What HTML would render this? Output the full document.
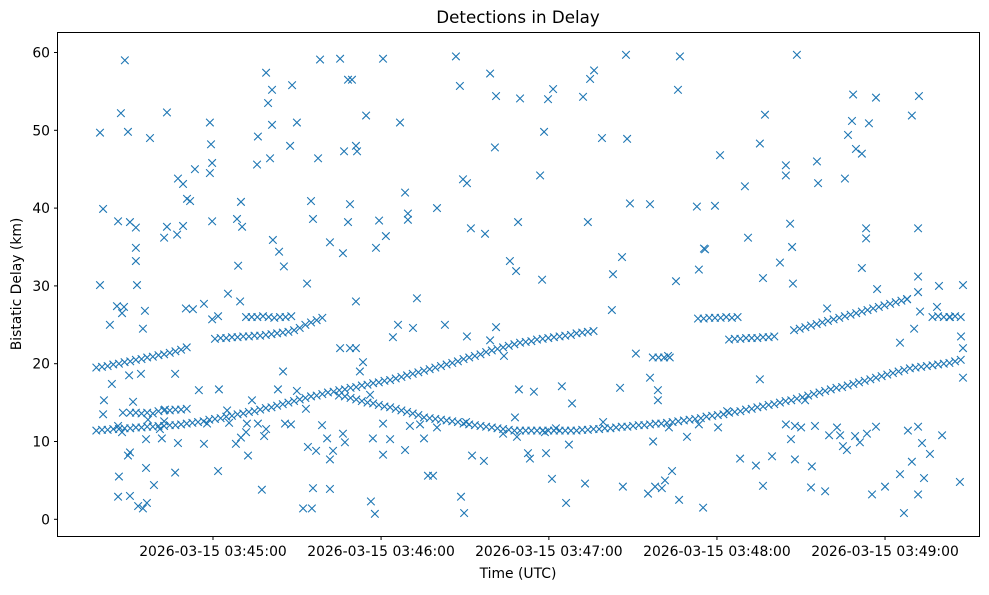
<!DOCTYPE html>
<html><head><meta charset="utf-8">
<style>
html,body{margin:0;padding:0;background:#fff;}
svg text{font-family:"DejaVu Sans","Liberation Sans",sans-serif;fill:#000;}
</style></head>
<body>
<svg id="chart" width="989" height="590" viewBox="0 0 989 590" xmlns="http://www.w3.org/2000/svg">
<rect width="989" height="590" fill="#fff"/>
<text x="518" y="23" font-size="16.7" text-anchor="middle">Detections in Delay</text>
<text x="518" y="578" font-size="13.9" text-anchor="middle">Time (UTC)</text>
<text transform="translate(21,284) rotate(-90)" font-size="13.9" text-anchor="middle">Bistatic Delay (km)</text>
<g id="marks"></g>
<rect x="57.5" y="32.5" width="922" height="504" fill="none" stroke="#000" stroke-width="1"/>
<g id="axes"></g>
</svg>
<script>
// tick data
const xTickTimes = [65.3, 124.8, 184.2, 243.7, 303.2];
const xTickLabels = ["2026-03-15 03:45:00","2026-03-15 03:46:00","2026-03-15 03:47:00","2026-03-15 03:48:00","2026-03-15 03:49:00"];
const yTicks = [0,10,20,30,40,50,60];

// dense track series: start time (s after 03:44:00), step (s), delays (km)
const trackAStart = 24, trackAStep = 2;
const trackA = [11.4,11.5,11.5,11.6,11.6,11.7,11.7,11.8,11.8,11.9,11.9,12.0,12.0,12.1,12.1,12.2,12.3,
12.4,12.5,12.6,12.8,12.9,13.0,13.2,13.3,13.5,13.6,13.8,13.9,
14.1,14.3,14.4,14.6,14.8,15.0,15.2,15.4,15.6,15.8,15.9,16.1,
16.3,16.4,16.6,16.7,16.9,17.0,17.2,17.3,17.5,17.6,17.8,17.9,
18.1,18.3,18.5,18.7,18.9,19.1,19.3,19.5,19.7,19.9,
20.1,20.3,20.6,20.8,21.0,21.2,21.5,21.7,21.9,22.1,22.3,22.5,
22.7,22.8,22.9,23.1,23.2,23.3,23.4,23.5,23.6,23.7,23.9,24.0,24.1,24.2];
const trackCStart = 112, trackCStep = 2;
const trackC = [15.8,15.6,15.4,15.2,15.0,14.9,14.7,14.5,14.4,
14.2,14.0,13.8,13.6,13.4,13.1,
13.0,12.9,12.8,12.7,12.6,12.5,12.3,12.2,12.1,
12.0,11.9,11.8,11.7,11.6,11.5,11.4,11.4,
11.4,11.4,11.4,11.4,11.4,11.4,11.4,11.4,11.4,
11.4,11.5,11.5,11.6,11.6,11.7,11.7,11.8,
11.9,11.9,12.0,12.1,12.1,12.2,12.3,12.3,12.4,12.5,12.6,12.7,
12.8,12.9,13.0,13.2,13.3,13.4,13.5,13.7,13.8,13.9,14.1,14.2,
14.4,14.5,14.7,14.8,15.0,15.2,15.3,15.5,15.7,15.9,16.1,16.3,
16.5,16.7,16.9,17.0,17.2,17.4,17.6,17.8,18.0,
18.2,18.4,18.6,18.8,19.0,19.2,19.4,
19.5,19.6,19.7,19.8,19.9,20.0,20.1,20.3,20.5];
const trackB1Start = 24, trackB1Step = 2;
const trackB1 = [19.5,19.6,19.7,19.9,20.0,20.2,20.3,20.5,20.6,20.8,20.9,21.1,21.2,21.4,21.6,21.8,22.1];
const trackB2Start = 66, trackB2Step = 2;
const trackB2 = [23.2,23.3,23.3,23.4,23.4,23.5,23.5,23.6,23.6,23.7,23.8,23.9,24.0,24.1,24.3,24.6,25.0,25.3,25.6,25.9];
const trackB3Start = 77, trackB3Step = 2;
const trackB3 = [26.0,26.0,26.0,26.1,26.0,25.9,26.0,26.0,26.1];
const trackB4Start = 36, trackB4Step = 2;
const trackB4 = [13.7,13.7,13.6,13.7,13.6,13.9,14.0,14.0,14.1,14.1,14.2];
const trackD1Start = 237, trackD1Step = 2;
const trackD1 = [25.8,25.8,25.9,25.9,25.9,26.0,25.9,26.0];
const trackD2Start = 248, trackD2Step = 2;
const trackD2 = [23.1,23.2,23.2,23.3,23.3,23.3,23.4,23.4,23.5];
const trackEStart = 271, trackEStep = 2;
const trackE = [24.3,24.5,24.7,24.9,25.1,25.3,25.5,25.7,25.9,26.1,26.3,26.5,26.7,26.9,27.1,27.3,27.5,27.7,27.9,28.1,28.3];
const trackFStart = 320, trackFStep = 2;
const trackF = [26.0,26.1,26.0,26.0,26.1,26.0];
const trackGStart = 221, trackGStep = 2;
const trackG = [20.8,20.8,20.8,20.8];

// scattered detections
const scatterTimes = [25.3,26.4,25.3,34.1,32.7,35.2,31.7,35.9,38.0,31.3,33.8,33.1,43.0,38.0,38.0,38.4,41.2,49.0,48.0,49.0,52.6,52.9,54.7,54.7,56.1,58.9,57.2,55.7,58.2,62.1,64.2,64.6,65.0,64.2,65.0,65.0,67.1,70.6,73.8,74.2,75.2,75.6,74.9,80.9,81.2,84.1,84.8,86.2,86.2,85.5,86.5,88.7,90.4,92.6,93.3,95.0,98.6,100.0,100.7,102.5,103.2,106.7,110.3,111.7,113.1,114.5,115.9,116.3,111.3,113.8,113.1,115.9,119.5,123.0,124.1,125.5,126.5,131.5,133.3,134.3,134.3,137.5,144.6,151.3,152.7,153.8,155.2,156.6,163.4,165.5,165.1,161.6,170.4,172.6,173.3,174.0,181.1,182.5,183.9,185.7,181.8,196.3,198.8,200.2,198.0,203.0,206.9,210.1,211.5,211.9,212.9,206.5,220.0,229.9,230.6,229.2,236.6,237.3,239.1,239.5,243.0,244.8,253.6,254.7,258.9,260.7,260.0,266.0,268.1,268.1,270.3,269.6,270.6,272.0,279.1,279.5,289.0,290.1,291.5,291.9,292.9,295.0,295.0,296.5,296.5,297.5,300.0,300.4,312.7,315.2,314.9,314.9,314.9,313.5,315.6,321.6,322.3,330.8,282.7,308.5,
26.7,26.4,28.8,29.5,31.7,33.1,33.4,35.2,35.9,37.0,39.8,40.5,41.6,41.6,42.3,44.4,41.9,40.5,38.8,35.9,31.7,32.0,35.6,46.5,47.2,48.0,48.3,51.9,52.9,51.9,60.3,62.1,63.2,67.1,67.4,70.3,71.0,73.4,75.2,77.0,77.3,79.1,77.7,81.2,82.6,83.4,84.1,88.3,90.1,90.8,92.9,95.0,97.2,98.2,98.9,100.3,100.7,101.8,103.9,105.7,106.7,106.7,107.8,109.9,110.3,111.3,112.0,113.8,115.9,117.3,118.4,120.9,121.2,122.6,121.9,125.5,125.5,128.0,129.0,130.8,133.3,135.0,136.1,138.6,140.0,141.4,143.2,144.6,147.4,153.1,154.2,154.9,155.2,157.0,161.2,163.4,165.5,168.0,168.3,172.2,172.9,173.6,176.8,177.5,178.9,182.8,183.2,185.3,186.7,188.8,190.3,191.3,192.4,197.0,203.4,209.4,210.4,215.0,219.3,220.0,221.1,221.8,222.8,222.8,224.2,225.3,226.7,226.4,227.8,230.3,233.1,237.3,238.8,244.1,247.3,251.9,257.5,258.9,260.0,263.2,268.1,269.9,271.3,271.3,273.5,274.9,277.0,277.3,278.4,282.0,283.4,286.2,287.3,288.3,289.7,292.6,294.3,296.8,298.6,300.0,303.2,308.5,309.9,311.3,312.7,314.9,316.3,314.9,317.0,319.1,323.4,329.7,330.8,330.8,330.1,311.0,326.2];
const scatterDelays = [49.7,39.9,30.1,59.0,52.2,49.8,38.3,38.2,37.5,27.4,27.3,26.5,49.0,34.9,33.2,30.1,26.8,52.3,36.2,37.6,36.6,43.8,43.1,37.7,41.2,45.0,40.9,27.1,27.0,27.7,51.0,48.2,45.8,44.5,38.3,25.7,26.1,29.0,38.6,32.6,40.8,37.6,28.0,45.6,49.2,57.4,53.5,55.2,50.7,46.4,35.9,34.4,32.5,48.0,55.8,51.0,30.3,40.9,38.6,46.4,59.1,35.6,59.2,47.3,56.5,56.5,48.0,47.3,34.2,40.5,38.2,28.0,51.9,34.9,38.4,59.2,36.4,51.0,42.0,39.3,38.5,28.4,40.0,59.5,55.7,43.7,43.2,37.4,57.3,54.4,47.8,36.7,33.2,31.9,38.2,54.1,44.2,49.8,54.0,55.3,30.8,54.3,56.6,57.7,38.2,49.0,31.5,33.7,59.7,48.9,40.6,26.9,40.5,55.2,59.5,30.6,40.2,32.1,34.8,34.7,40.3,46.8,42.8,36.2,48.3,52.0,31.0,33.0,45.5,44.2,35.0,38.0,30.3,59.7,46.0,43.2,43.8,49.4,51.2,54.6,47.6,47.0,32.3,37.4,36.1,50.9,54.2,29.6,51.9,54.4,37.4,31.2,29.2,24.5,26.7,27.3,30.0,30.1,27.1,22.7,
15.3,13.5,25.0,17.4,12.0,11.2,13.7,8.2,8.6,15.1,18.7,24.5,10.3,6.6,12.8,4.4,2.1,1.4,1.7,3.0,2.9,5.5,18.5,11.6,10.4,12.6,14.1,6.0,9.8,18.7,16.6,9.7,12.3,6.2,16.7,14.0,12.4,9.7,10.5,11.2,12.3,15.3,8.2,12.3,3.8,10.7,11.6,16.7,19.0,12.3,12.2,16.5,1.4,14.2,9.3,1.4,4.0,8.8,12.1,10.4,3.9,7.7,8.8,15.9,22.0,11.0,9.9,22.0,22.0,19.0,20.2,16.0,2.3,0.7,10.4,12.3,8.3,10.3,23.4,25.0,8.9,12.0,24.6,12.2,10.4,5.6,5.6,11.8,25.0,2.9,0.8,12.5,23.5,8.2,7.5,23.0,24.7,11.0,21.0,13.1,10.6,16.7,8.5,7.8,16.4,11.2,8.5,5.2,11.7,17.1,2.1,9.6,14.9,4.6,12.5,16.9,4.2,21.3,3.3,18.2,10.0,4.2,16.6,15.3,4.0,5.0,11.8,21.0,6.2,2.5,10.6,12.2,1.5,11.8,13.9,7.8,6.9,18.0,4.3,8.1,12.2,10.3,12.0,7.7,11.8,15.3,4.1,6.8,12.0,3.6,10.8,11.8,10.8,9.4,8.9,10.7,9.9,11.0,3.2,11.9,4.2,5.8,0.8,11.4,7.4,3.2,9.8,11.9,5.3,8.4,10.8,4.8,18.2,22.0,23.5,28.3,26.0];

// axis functions
function xs(t){ return (t + 10.1) / 0.354; }
function ys(d){ return 519.3 - d * 7.78; }

const NS = "http://www.w3.org/2000/svg";
const marks = document.getElementById("marks");
const axes = document.getElementById("axes");

function addX(t, d, name){
  const cx = xs(t), cy = ys(d), h = 3.8;
  const p = document.createElementNS(NS, "path");
  p.setAttribute("d", `M${cx-h},${cy-h}L${cx+h},${cy+h}M${cx-h},${cy+h}L${cx+h},${cy-h}`);
  p.setAttribute("stroke", "#1f77b4");
  p.setAttribute("stroke-width", "1.1");
  p.setAttribute("fill", "none");
  
  
  marks.appendChild(p);
}
function addTrack(start, step, vals, name){
  vals.forEach((v, i) => addX(start + i * step, v, name));
}
addTrack(trackAStart, trackAStep, trackA, "track-a-point");
addTrack(trackCStart, trackCStep, trackC, "track-c-point");
addTrack(trackB1Start, trackB1Step, trackB1, "track-b1-point");
addTrack(trackB2Start, trackB2Step, trackB2, "track-b2-point");
addTrack(trackB3Start, trackB3Step, trackB3, "track-b3-point");
addTrack(trackB4Start, trackB4Step, trackB4, "track-b4-point");
addTrack(trackD1Start, trackD1Step, trackD1, "track-d1-point");
addTrack(trackD2Start, trackD2Step, trackD2, "track-d2-point");
addTrack(trackEStart, trackEStep, trackE, "track-e-point");
addTrack(trackFStart, trackFStep, trackF, "track-f-point");
addTrack(trackGStart, trackGStep, trackG, "track-g-point");
scatterTimes.forEach((t, i) => addX(t, scatterDelays[i], "scatter-point"));

// axes ticks
xTickTimes.forEach((t, i) => {
  const x = xs(t);
  const l = document.createElementNS(NS, "line");
  l.setAttribute("x1", x); l.setAttribute("x2", x);
  l.setAttribute("y1", 536.5); l.setAttribute("y2", 540);
  l.setAttribute("stroke", "#000");
  
  
  axes.appendChild(l);
  const tx = document.createElementNS(NS, "text");
  tx.setAttribute("x", x); tx.setAttribute("y", 556);
  tx.setAttribute("font-size", "13.9");
  tx.setAttribute("text-anchor", "middle");
  tx.textContent = xTickLabels[i];
  
  
  axes.appendChild(tx);
});
yTicks.forEach(v => {
  const y = ys(v);
  const l = document.createElementNS(NS, "line");
  l.setAttribute("x1", 54); l.setAttribute("x2", 57.5);
  l.setAttribute("y1", y); l.setAttribute("y2", y);
  l.setAttribute("stroke", "#000");
  
  
  axes.appendChild(l);
  const tx = document.createElementNS(NS, "text");
  tx.setAttribute("x", 50); tx.setAttribute("y", y + 5);
  tx.setAttribute("font-size", "13.9");
  tx.setAttribute("text-anchor", "end");
  tx.textContent = v;
  
  
  axes.appendChild(tx);
});
</script>
</body></html>
